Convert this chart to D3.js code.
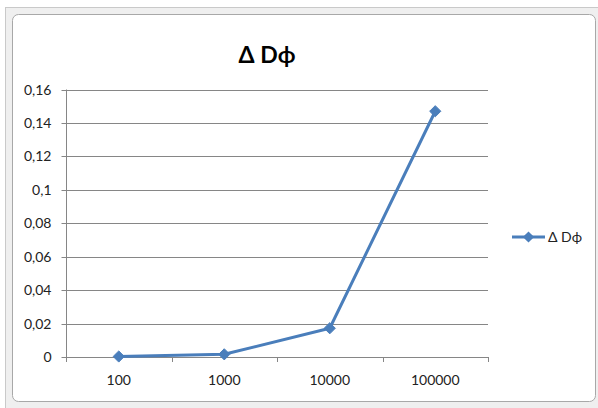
<!DOCTYPE html>
<html><head><meta charset="utf-8">
<script src="https://cdn.jsdelivr.net/npm/d3@7"></script>
<style>body{margin:0;background:#fff}svg{display:block}</style>
</head><body>
<script>
const categories = ["100", "1000", "10000", "100000"];
const values = [0.0003, 0.0016, 0.0172, 0.147];
const yTicks = [0, 0.02, 0.04, 0.06, 0.08, 0.1, 0.12, 0.14, 0.16];
const seriesName = "Δ Dϕ";
const chartTitle = "Δ Dϕ";

(function () {
const W = 598, H = 408;
const svg = d3.select("body").append("svg").attr("width", W).attr("height", H);
const font = "Lato, 'Liberation Sans', sans-serif";
const fs = 14;

// frame
svg.append("rect").attr("x", 5.5).attr("y", 7.5).attr("width", 600).attr("height", 410)
  .attr("fill", "#efefef").attr("stroke", "#c9c9c9");
svg.append("rect").attr("x", 12.5).attr("y", 14.5).attr("width", 583).attr("height", 387).attr("rx", 6)
  .attr("fill", "#fff").attr("stroke", "#a8a8a8");

const pL = 66, pR = 488, pT = 89.5, pB = 357;
const x = d3.scaleBand().domain(categories).range([pL, pR]);
const y = d3.scaleLinear().domain([0, 0.16]).range([pB, pT]);
const fmt = d => String(d).replace(".", ",");

// gridlines
svg.append("g").selectAll("line").data(yTicks.filter(d => d > 0)).join("line")
  .attr("x1", pL).attr("x2", pR)
  .attr("y1", d => Math.round(y(d)) + 0.5).attr("y2", d => Math.round(y(d)) + 0.5)
  .attr("stroke", "#868686");

// y axis
const ya = svg.append("g").attr("transform", `translate(${pL + 0.5},0)`)
  .call(d3.axisLeft(y).tickValues(yTicks).tickFormat(fmt).tickSize(5).tickPadding(10));
ya.select(".domain").attr("stroke", "#868686").attr("d", `M0,${pT}V${pB}`);
ya.selectAll(".tick line").attr("stroke", "#868686");
ya.selectAll(".tick").attr("transform", d => `translate(0,${Math.round(y(d)) + 0.5})`);
ya.selectAll("text").attr("font-family", font).attr("font-size", fs).attr("fill", "#222");

// x axis
const xa = svg.append("g").attr("transform", `translate(0,${pB + 0.5})`)
  .call(d3.axisBottom(x).tickSize(0).tickPadding(18));
xa.select(".domain").attr("stroke", "#868686").attr("d", `M${pL},0H${pR}`);
xa.selectAll("text").attr("font-family", font).attr("font-size", fs).attr("fill", "#222");
svg.append("g").selectAll("line").data(categories.concat(["end"])).join("line")
  .attr("x1", (d, i) => Math.round(pL + i * x.bandwidth()) + 0.5)
  .attr("x2", (d, i) => Math.round(pL + i * x.bandwidth()) + 0.5)
  .attr("y1", pB).attr("y2", pB + 5).attr("stroke", "#868686");

const blue = "#4a7ebb";
const line = d3.line().x((d, i) => x(categories[i]) + x.bandwidth() / 2).y(d => y(d));
svg.append("path").datum(values).attr("d", line).attr("fill", "none")
  .attr("stroke", blue).attr("stroke-width", 3).attr("stroke-linejoin", "round");
const diamond = d3.symbol().type(d3.symbolDiamond2).size(80);
svg.append("g").selectAll("path").data(values).join("path")
  .attr("d", diamond)
  .attr("transform", (d, i) => `translate(${x(categories[i]) + x.bandwidth() / 2},${y(d)})`)
  .attr("fill", blue).attr("stroke", blue).attr("stroke-width", 1);

// title
svg.append("text").attr("x", 267).attr("y", 63).attr("text-anchor", "middle")
  .attr("font-family", font).attr("font-weight", "bold").attr("font-size", 23).attr("fill", "#000")
  .text(chartTitle);

// legend
const ly = 237;
svg.append("line").attr("x1", 512).attr("x2", 545).attr("y1", ly).attr("y2", ly)
  .attr("stroke", blue).attr("stroke-width", 3);
svg.append("path").attr("d", diamond).attr("transform", `translate(528.5,${ly})`).attr("fill", blue);
svg.append("text").attr("x", 548).attr("y", ly + 5).attr("font-family", font)
  .attr("font-size", fs).attr("fill", "#222").text(seriesName);
})();
</script>
</body></html>
